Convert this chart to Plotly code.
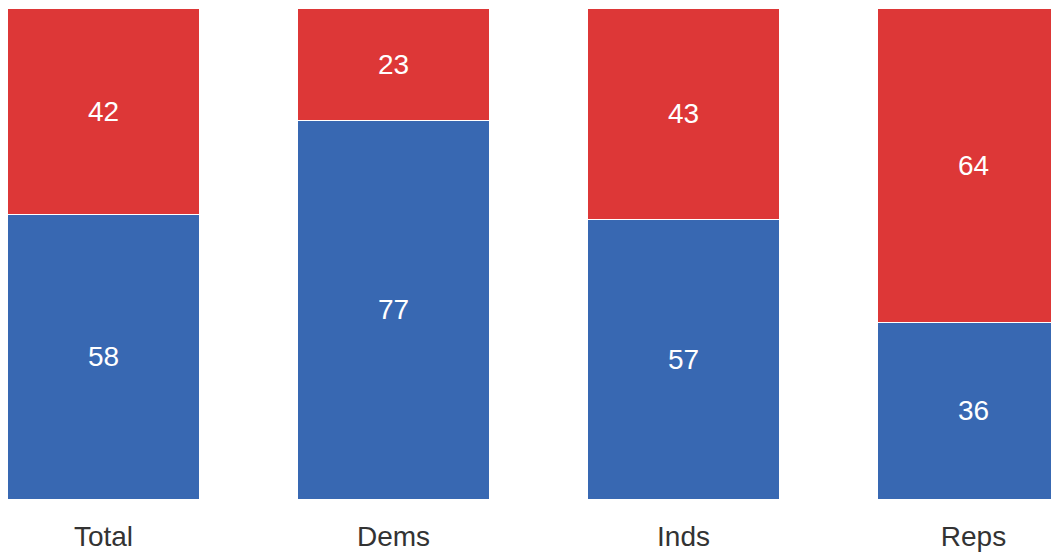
import plotly.graph_objects as go

categories = ["Total", "Dems", "Inds", "Reps"]
blue_values = [58, 77, 57, 36]
red_values = [42, 23, 43, 64]

BLUE = "#3868B2"
RED = "#DD3737"
FONT = "Liberation Sans Narrow, Arial Narrow, Liberation Sans, Arial, sans-serif"

fig = go.Figure()
fig.add_trace(go.Bar(
    x=categories, y=blue_values, marker=dict(color=BLUE, line=dict(color="white", width=1)),
    text=[str(v) for v in blue_values], textposition="inside", insidetextanchor="middle",
    textfont=dict(color="white", size=28, family=FONT), width=0.66, showlegend=False,
    hoverinfo="skip",
))
fig.add_trace(go.Bar(
    x=categories, y=red_values, marker=dict(color=RED, line=dict(color="white", width=1)),
    text=[str(v) for v in red_values], textposition="inside", insidetextanchor="middle",
    textfont=dict(color="white", size=28, family=FONT), width=0.66, showlegend=False,
    hoverinfo="skip",
))

fig.update_layout(
    barmode="stack",
    width=1059, height=554,
    margin=dict(l=0, r=0, t=0, b=63),
    paper_bgcolor="white", plot_bgcolor="white",
    uniformtext=dict(minsize=10, mode="show"),
    xaxis=dict(range=[-0.3293, 3.3224], showgrid=False, zeroline=False, showline=False,
               ticks="", ticklabelstandoff=18,
               tickfont=dict(size=28, color="#333333", family=FONT)),
    yaxis=dict(range=[0, 100], visible=False),
)

fig.write_html("out.html")
